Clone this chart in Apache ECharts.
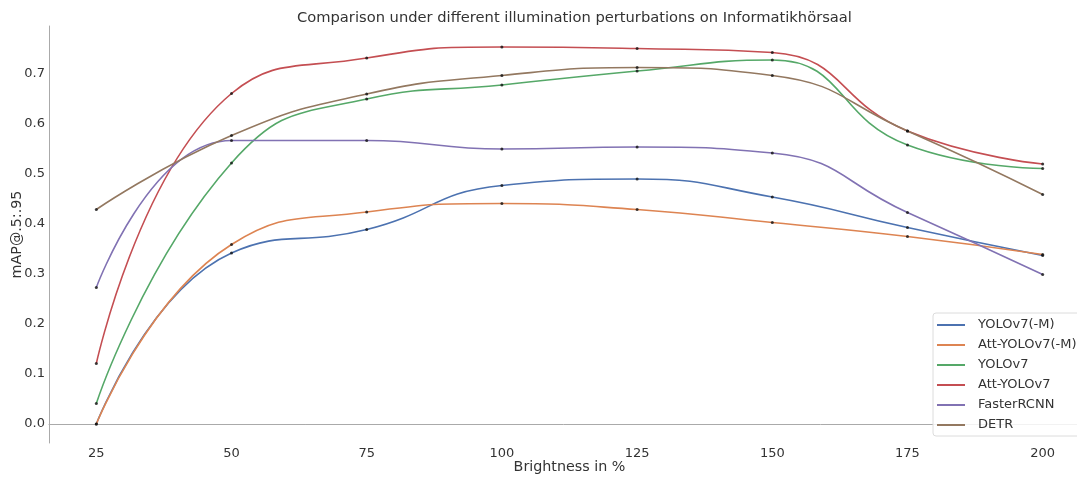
<!DOCTYPE html>
<html>
<head>
<meta charset="utf-8">
<script src="https://cdn.jsdelivr.net/npm/echarts@6/dist/echarts.min.js"></script>
<style>
html,body{margin:0;padding:0;background:#fff;}
#chart{width:1077px;height:477px;}
</style>
</head>
<body>
<div id="chart"></div>
<script>
const brightness = [25, 50, 75, 100, 125, 150, 175, 200];
const yoloM      = [0.000, 0.342, 0.389, 0.477, 0.490, 0.454, 0.393, 0.337];
const attYoloM   = [0.000, 0.359, 0.424, 0.441, 0.429, 0.403, 0.375, 0.339];
const yolo       = [0.041, 0.522, 0.650, 0.678, 0.706, 0.728, 0.558, 0.511];
const attYolo    = [0.121, 0.661, 0.732, 0.754, 0.751, 0.743, 0.586, 0.520];
const fasterRcnn = [0.273, 0.567, 0.567, 0.550, 0.554, 0.542, 0.423, 0.299];
const detr       = [0.429, 0.577, 0.660, 0.697, 0.713, 0.697, 0.586, 0.459];
const seriesNames = ['YOLOv7(-M)', 'Att-YOLOv7(-M)', 'YOLOv7', 'Att-YOLOv7', 'FasterRCNN', 'DETR'];
const xTicks = [25, 50, 75, 100, 125, 150, 175, 200];
const yTicks = [0.0, 0.1, 0.2, 0.3, 0.4, 0.5, 0.6, 0.7];

const allValues = [yoloM, attYoloM, yolo, attYolo, fasterRcnn, detr];
const colors = ['#4c72b0', '#dd8452', '#55a868', '#c44e52', '#8172b3', '#937860'];
const font = 'DejaVu Sans';

const series = [];
allValues.forEach((vals, i) => {
  series.push({
    name: seriesNames[i],
    type: 'line',
    smooth: 0.5,
    showSymbol: false,
    data: vals.map((v, j) => [brightness[j], v]),
    lineStyle: { color: colors[i], width: 1.6 },
    itemStyle: { color: colors[i] },
    z: 2
  });
});
allValues.forEach((vals, i) => {
  series.push({
    name: seriesNames[i] + ' pts',
    type: 'scatter',
    symbol: 'circle',
    symbolSize: 3,
    data: vals.map((v, j) => [brightness[j], v]),
    itemStyle: { color: '#111' },
    silent: true,
    z: 3
  });
});

const chart = echarts.init(document.getElementById('chart'), null, { renderer: 'canvas' });
chart.setOption({
  animation: false,
  backgroundColor: '#ffffff',
  title: {
    text: 'Comparison under different illumination perturbations on Informatikhörsaal',
    left: 292, top: 6,
    textStyle: { fontFamily: font, fontSize: 14.7, fontWeight: 'normal', color: '#333' }
  },
  grid: { left: 49, right: -13, top: 26, bottom: 34, containLabel: false, outerBoundsMode: 'none' },
  legend: {
    data: seriesNames,
    orient: 'vertical',
    left: 933, top: 313,
    icon: 'path://M0,0 L28,0 L28,2 L0,2 Z',
    itemWidth: 28, itemHeight: 2,
    itemGap: 6,
    padding: [5, 10, 4, 4],
    borderColor: '#dcdcdc', borderWidth: 1, borderRadius: 3,
    backgroundColor: 'rgba(255,255,255,0.85)',
    textStyle: { fontFamily: font, fontSize: 13, color: '#333', lineHeight: 14, padding: [0, 0, 0, 8] }
  },
  xAxis: {
    type: 'value', min: 16.25, max: 208.75,
    name: 'Brightness in %', nameLocation: 'middle', nameGap: 17, nameMoveOverlap: false,
    nameTextStyle: { fontFamily: font, fontSize: 14.3, color: '#333' },
    axisLine: { show: true, lineStyle: { color: '#aaa', width: 1 } },
    axisTick: { show: false, customValues: xTicks },
    splitLine: { show: false },
    axisLabel: { customValues: xTicks, fontFamily: font, fontSize: 13, color: '#333', margin: 4 }
  },
  yAxis: {
    type: 'value', min: -0.038, max: 0.796,
    name: 'mAP@.5:.95', nameLocation: 'middle', nameGap: 25, nameMoveOverlap: false,
    nameTextStyle: { fontFamily: font, fontSize: 14.3, color: '#333' },
    axisLine: { show: true, lineStyle: { color: '#aaa', width: 1 } },
    axisTick: { show: false, customValues: yTicks },
    splitLine: { show: false },
    axisLabel: { customValues: yTicks, fontFamily: font, fontSize: 13, color: '#333', margin: 4,
      formatter: v => v.toFixed(1) }
  },
  series: series
});
</script>
</body>
</html>
